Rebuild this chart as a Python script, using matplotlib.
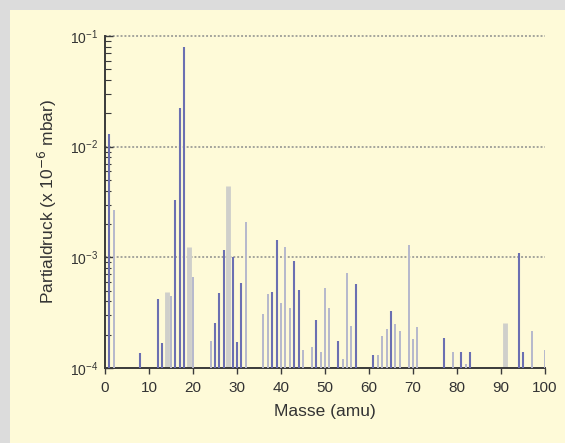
import matplotlib
matplotlib.use("Agg")
import matplotlib.pyplot as plt
from matplotlib.patches import Rectangle
from matplotlib.ticker import LogLocator, NullFormatter

plt.rcParams['font.family'] = ['Liberation Sans', 'DejaVu Sans']

# dunkle (blaue) Linien
mass_dark = [1, 8, 12, 13, 16, 17, 18, 25, 26, 27, 29, 30, 31, 38, 39, 43, 44,
             48, 53, 57, 61, 65, 77, 81, 83, 94, 95]
p_dark = [1.3e-2, 1.36e-4, 4.2e-4, 1.67e-4, 3.3e-3, 2.25e-2, 8.0e-2, 2.55e-4,
          4.8e-4, 1.16e-3, 1.0e-3, 1.7e-4, 5.9e-4, 4.9e-4, 1.42e-3, 9.2e-4,
          5.1e-4, 2.7e-4, 1.76e-4, 5.7e-4, 1.32e-4, 3.25e-4, 1.87e-4, 1.4e-4,
          1.39e-4, 1.1e-3, 1.39e-4]

# helle (graue) Linien
mass_light = [2, 15, 20, 24, 32, 36, 37, 40, 41, 42, 45, 47, 49, 50, 51, 54,
              55, 56, 62, 63, 64, 66, 67, 69, 70, 71, 79, 82, 97, 100]
p_light = [2.7e-3, 4.5e-4, 6.7e-4, 1.75e-4, 2.1e-3, 3.1e-4, 4.7e-4, 3.9e-4,
           1.23e-3, 3.5e-4, 1.45e-4, 1.54e-4, 1.39e-4, 5.3e-4, 3.5e-4, 1.2e-4,
           7.2e-4, 2.4e-4, 1.32e-4, 1.96e-4, 2.25e-4, 2.5e-4, 2.17e-4, 1.3e-3,
           1.83e-4, 2.36e-4, 1.39e-4, 1.09e-4, 2.17e-4, 1.44e-4]

# breite helle Balken
mass_wide = [14, 19, 28, 91]
p_wide = [4.9e-4, 1.23e-3, 4.4e-3, 2.55e-4]

fig = plt.figure(figsize=(5.65, 4.43), dpi=100)
fig.patch.set_facecolor('#dcdcdc')

# hellgelbes Feld hinter dem Diagramm
bg = fig.add_axes([0, 0, 1, 1], zorder=-5)
bg.set_axis_off()
bg.add_patch(Rectangle((10 / 565, 0), 1, 1 - 10 / 443, transform=bg.transAxes,
                       facecolor='#fefad8', edgecolor='none'))

ax = fig.add_axes([105 / 565, 75 / 443, 440 / 565, 332 / 443])
ax.set_facecolor('none')
ax.set_yscale('log')
ax.set_xlim(0, 100)
ax.set_ylim(1e-4, 1e-1)

for y in [1e-3, 1e-2, 1e-1]:
    ax.axhline(y, color='#a4a49c', lw=1.4, ls=(0, (1, 1)), zorder=1, clip_on=False)

ax.vlines(mass_wide, 1e-4, p_wide, colors='#cfcfcb', lw=3.5, zorder=2)
ax.vlines(mass_light, 1e-4, p_light, colors='#b6b8cc', lw=1.4, zorder=3)
ax.vlines(mass_dark, 1e-4, p_dark, colors='#6b6fb2', lw=1.5, zorder=4)

for s in ['top', 'right']:
    ax.spines[s].set_visible(False)
for s in ['left', 'bottom']:
    ax.spines[s].set_color('#3a3a3a')
    ax.spines[s].set_linewidth(1.4)

ax.set_xticks(range(0, 101, 10))
ax.tick_params(axis='x', direction='out', length=4, width=1, colors='#3a3a3a',
               labelsize=11, labelcolor='#333333', pad=5)
ax.yaxis.set_major_locator(LogLocator(base=10, numticks=10))
ax.yaxis.set_minor_locator(LogLocator(base=10, subs=range(2, 10), numticks=10))
ax.yaxis.set_minor_formatter(NullFormatter())
ax.tick_params(axis='y', which='major', direction='in', length=6, width=1,
               colors='#3a3a3a', labelsize=10, labelcolor='#333333', pad=5)
ax.tick_params(axis='y', which='minor', direction='in', length=4, width=0.8,
               colors='#3a3a3a')

ax.set_xlabel('Masse (amu)', fontsize=12.5, color='#333333', labelpad=7)
ax.set_ylabel(r'Partialdruck (x 10$^{-6}$ mbar)', fontsize=12.5, color='#333333', labelpad=8)

fig.savefig('out.png', dpi=100, facecolor=fig.get_facecolor())
